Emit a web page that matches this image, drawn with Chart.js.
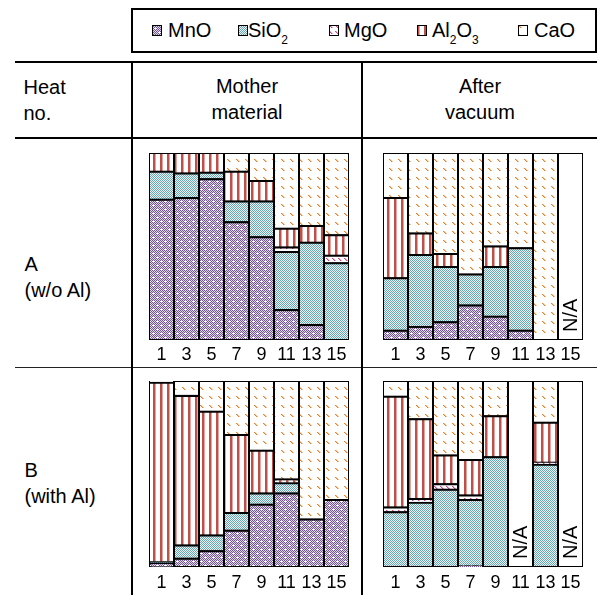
<!DOCTYPE html>
<html>
<head>
<meta charset="utf-8">
<script src="https://cdn.jsdelivr.net/npm/chart.js@4"></script>
<style>
  html, body { margin: 0; padding: 0; background: #fff; }
  body { width: 597px; height: 595px; position: relative; overflow: hidden;
         font-family: "Liberation Sans", Arial, sans-serif; color: #000; }
  .ln { position: absolute; background: #000; }
  .txt { position: absolute; font-size: 20px; line-height: 25.5px; white-space: nowrap; }
  .ctr { text-align: center; }
  .sub { font-size: 12px; position: relative; top: 7px; }
  .legend { position: absolute; left: 131px; top: 8px; width: 466px; height: 45px;
            border: 2px solid #000; box-sizing: border-box; }
  .sw { position: absolute; }
  canvas.panel { position: absolute; }
</style>
</head>
<body>

<!-- legend -->
<div class="legend"></div>
<canvas class="sw" id="sw0" width="10" height="11" style="left:152px;top:25px"></canvas>
<div class="txt" style="left:168px;top:18px">MnO</div>
<canvas class="sw" id="sw1" width="10" height="11" style="left:238px;top:25px"></canvas>
<div class="txt" style="left:248px;top:18px">SiO<span class="sub">2</span></div>
<canvas class="sw" id="sw2" width="10" height="11" style="left:329px;top:25px"></canvas>
<div class="txt" style="left:344px;top:18px">MgO</div>
<canvas class="sw" id="sw3" width="10" height="11" style="left:417px;top:25px"></canvas>
<div class="txt" style="left:432px;top:18px">Al<span class="sub">2</span>O<span class="sub">3</span></div>
<canvas class="sw" id="sw4" width="10" height="11" style="left:518px;top:25px"></canvas>
<div class="txt" style="left:534px;top:18px">CaO</div>

<!-- table rules -->
<div class="ln" style="left:15px;top:61px;width:582px;height:2px"></div>
<div class="ln" style="left:15px;top:137px;width:582px;height:2px"></div>
<div class="ln" style="left:15px;top:367px;width:582px;height:1px;background:#222"></div>
<div class="ln" style="left:131px;top:61px;width:2px;height:534px"></div>
<div class="ln" style="left:361px;top:61px;width:2px;height:534px"></div>

<!-- header cells -->
<div class="txt" style="left:23.5px;top:75px">Heat<br>no.</div>
<div class="txt ctr" style="left:133px;top:74px;width:228px">Mother<br>material</div>
<div class="txt ctr" style="left:363px;top:74px;width:234px">After<br>vacuum</div>

<!-- row labels -->
<div class="txt" style="left:24.5px;top:252px">A<br>(w/o Al)</div>
<div class="txt" style="left:24.5px;top:458px">B<br>(with Al)</div>

<!-- chart panels -->
<canvas class="panel" id="aMother" width="206" height="218" style="left:146px;top:150px"></canvas>
<canvas class="panel" id="aAfter"  width="206" height="218" style="left:380px;top:150px"></canvas>
<canvas class="panel" id="bMother" width="206" height="217" style="left:146px;top:378px"></canvas>
<canvas class="panel" id="bAfter"  width="206" height="217" style="left:380px;top:378px"></canvas>

<script>
// Heat numbers along each panel's x axis
const heats = ['1', '3', '5', '7', '9', '11', '13', '15'];
const components = ['MnO', 'SiO2', 'MgO', 'Al2O3', 'CaO'];

// Heat A (w/o Al), mother material, mass %
const mnoAMother  = [75, 76, 86, 63, 55, 16, 8, 0];
const sio2AMother = [15, 13, 3.5, 11, 19, 31, 44, 41];
const mgoAMother  = [0, 0, 0, 0, 0, 2.5, 0, 4];
const al2o3AMother = [10, 11, 10.5, 16, 11, 10, 9, 11];
const caoAMother  = [0, 0, 0, 10, 15, 40.5, 39, 44];

// Heat A (w/o Al), after vacuum, mass %
const mnoAAfter  = [5, 7, 9.5, 18.5, 12.5, 5, 0, 0];
const sio2AAfter = [28, 38.5, 29.5, 16.5, 26.5, 44, 0, 0];
const mgoAAfter  = [0, 0, 0, 0, 0, 0, 0, 0];
const al2o3AAfter = [43, 11.5, 7, 0, 11, 0, 0, 0];
const caoAAfter  = [24, 43, 54, 65, 50, 51, 100, 0];
const naAAfter   = [false, false, false, false, false, false, false, true];

// Heat B (with Al), mother material, mass %
const mnoBMother  = [2, 4.5, 8.5, 19.5, 33.5, 39.5, 25.5, 36];
const sio2BMother = [0.5, 7, 8.5, 9.5, 6, 5.5, 0, 0];
const mgoBMother  = [0, 0, 0, 0, 0, 0, 0, 0];
const al2o3BMother = [96.5, 80.5, 66.5, 42, 23, 2, 0, 0];
const caoBMother  = [1, 8, 16.5, 29, 37.5, 53, 74.5, 64];

// Heat B (with Al), after vacuum, mass %
const mnoBAfter  = [0, 0, 0, 0.5, 0, 0, 0, 0];
const sio2BAfter = [29.5, 34.5, 41.5, 35.5, 59, 0, 55, 0];
const mgoBAfter  = [2.5, 2, 3, 2.5, 0, 0, 1, 0];
const al2o3BAfter = [59.5, 43, 15.5, 19, 22, 0, 21.5, 0];
const caoBAfter  = [8.5, 20.5, 40, 42.5, 19, 0, 22.5, 0];
const naBAfter   = [false, false, false, false, false, true, false, true];

const FONT = '"Liberation Sans", Arial, sans-serif';

// ---- fill patterns -------------------------------------------------------
function tile(w, h, paint) {
  const c = document.createElement('canvas');
  c.width = w; c.height = h;
  const g = c.getContext('2d');
  g.fillStyle = '#fff';
  g.fillRect(0, 0, w, h);
  paint(g);
  return c;
}
function px(g, color, pts) {
  g.fillStyle = color;
  pts.forEach(p => g.fillRect(p[0], p[1], 1, 1));
}
function checker(a, b, dot) {
  return tile(8, 8, g => {
    for (let y = 0; y < 8; y++) for (let x = 0; x < 8; x++) {
      g.fillStyle = (x + y) % 2 === 0 ? a : b;
      g.fillRect(x, y, 1, 1);
    }
    if (dot) px(g, dot, [[3, 3], [7, 7], [2, 3], [4, 3], [6, 7], [0, 7]]);
  });
}
function dashes(size, len, dark, light) {
  return tile(size, size, g => {
    const l = [], d = [];
    for (let k = 0; k < len; k++) { l.push([k + 1, k]); d.push([k, k]); }
    px(g, light, l);
    px(g, dark, d);
  });
}
const tiles = [
  checker('rgb(116,88,140)', 'rgb(222,214,232)', '#ffffff'),           // MnO
  checker('rgb(108,164,180)', 'rgb(232,243,246)', null),               // SiO2
  dashes(6, 3, 'rgb(200,70,140)', 'rgb(236,170,205)'),                 // MgO
  tile(7, 1, g => { g.fillStyle = 'rgb(190,80,76)'; g.fillRect(0, 0, 2, 1);
                    g.fillStyle = 'rgb(226,165,160)'; g.fillRect(2, 0, 1, 1); }), // Al2O3
  dashes(9, 3, 'rgb(234,128,40)', 'rgb(248,196,150)')                  // CaO
];
function patternFor(ctx, i) { return ctx.createPattern(tiles[i], 'repeat'); }

// legend swatches
for (let i = 0; i < 5; i++) {
  const c = document.getElementById('sw' + i);
  const g = c.getContext('2d');
  g.fillStyle = patternFor(g, i);
  g.fillRect(0, 0, c.width, c.height);
  g.strokeStyle = '#000';
  g.lineWidth = 1;
  g.strokeRect(0.5, 0.5, c.width - 1, c.height - 1);
}

// ---- "N/A" label inside empty bars ---------------------------------------
const naLabel = {
  id: 'naLabel',
  afterDatasetsDraw(chart) {
    const ctx = chart.ctx;
    chart.data.datasets.forEach((ds, di) => {
      if (ds.label !== 'N/A') return;
      chart.getDatasetMeta(di).data.forEach((el, i) => {
        if (ds.data[i] == null) return;
        ctx.save();
        ctx.translate(el.x + 1, el.base - 8);
        ctx.rotate(-Math.PI / 2);
        ctx.font = '20px ' + FONT;
        ctx.fillStyle = '#000';
        ctx.textAlign = 'left';
        ctx.textBaseline = 'middle';
        ctx.fillText('N/A', 0, 0);
        ctx.restore();
      });
    });
  }
};

const barStyle = {
  borderColor: '#000',
  borderWidth: 2,
  borderSkipped: false,
  inflateAmount: 1,
  barPercentage: 1,
  categoryPercentage: 1
};

function makePanel(id, series, naFlags, tickPad) {
  const canvas = document.getElementById(id);
  const ctx = canvas.getContext('2d');
  const datasets = series.map((vals, i) => Object.assign({
    label: components[i],
    data: vals,
    backgroundColor: patternFor(ctx, i)
  }, barStyle));
  if (naFlags) {
    datasets.push(Object.assign({
      label: 'N/A',
      data: naFlags.map(f => (f ? 100 : null)),
      backgroundColor: '#ffffff'
    }, barStyle));
  }
  return new Chart(canvas, {
    type: 'bar',
    data: { labels: heats, datasets },
    plugins: [naLabel],
    options: {
      responsive: false,
      animation: false,
      events: [],
      layout: { padding: { left: 3, right: 3, top: 3, bottom: 0 } },
      plugins: { legend: { display: false }, tooltip: { enabled: false } },
      scales: {
        x: {
          stacked: true,
          grid: { display: false, drawTicks: false },
          border: { display: false },
          ticks: { color: '#000', font: { family: FONT, size: 18 }, padding: tickPad,
                   maxRotation: 0, minRotation: 0, autoSkip: false },
          afterFit(scale) { scale.height = 28; }
        },
        y: { stacked: true, display: false, min: 0, max: 100 }
      }
    }
  });
}

makePanel('aMother', [mnoAMother, sio2AMother, mgoAMother, al2o3AMother, caoAMother], null, 4);
makePanel('aAfter',  [mnoAAfter, sio2AAfter, mgoAAfter, al2o3AAfter, caoAAfter], naAAfter, 4);
makePanel('bMother', [mnoBMother, sio2BMother, mgoBMother, al2o3BMother, caoBMother], null, 5);
makePanel('bAfter',  [mnoBAfter, sio2BAfter, mgoBAfter, al2o3BAfter, caoBAfter], naBAfter, 5);
</script>
</body>
</html>
